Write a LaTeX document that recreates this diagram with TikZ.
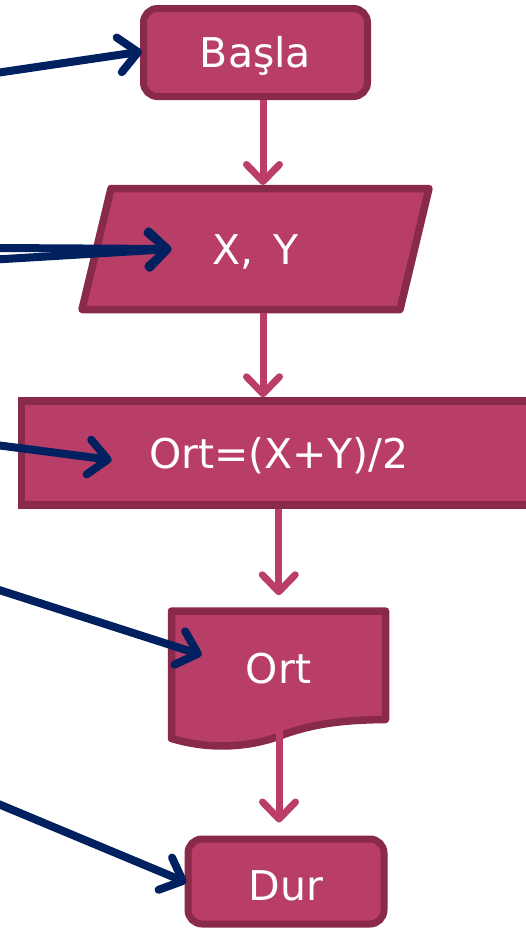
\documentclass[tikz,border=0pt]{standalone}
\usepackage{fontspec}
\setmainfont{DejaVu Sans}
\usetikzlibrary{arrows.meta,calc}
\definecolor{boxfill}{RGB}{185,62,103}
\definecolor{boxline}{RGB}{137,42,74}
\definecolor{navy}{RGB}{0,32,96}
\definecolor{pinkline}{RGB}{186,62,104}
\tikzset{
  lbl/.style={font=\fontsize{41}{48}\selectfont, text=white, text height=30pt, text depth=0pt, inner sep=0pt},
  term/.style={lbl, draw=boxline, fill=boxfill, line width=7pt, rounded corners=14pt},
  procbox/.style={lbl, draw=boxline, fill=boxfill, line width=7.5pt},
  shapebody/.style={draw=boxline, fill=boxfill, line width=7.5pt, line join=round},
  flow/.style={draw=pinkline, line width=7pt, -{Straight Barb[length=17pt,width=33pt,round]}},
  ref/.style={draw=navy, line width=8pt, line cap=round, -{Straight Barb[length=19pt,width=35pt,round]}},
}
\begin{document}
\begin{tikzpicture}[x=1pt,y=-1pt]
\useasboundingbox (0,0) rectangle (526,929);
% nodes
\node[term, minimum width=224pt, minimum height=88pt] (start) at (255.5,52.5) {Başla};
\path[shapebody] (111,188.5) -- (429,188.5) -- (400,309.5) -- (82,309.5) -- cycle;
\node[lbl, minimum width=318pt, minimum height=121pt, outer sep=3.5pt] (io) at (255.5,249) {X,\, Y};
\node[procbox, minimum width=514.5pt, minimum height=104pt] (calc) at (278.75,453) {Ort=(X+Y)/2};
\path[shapebody] (171.5,611) -- (385.5,611) -- (385.5,719.5)
  .. controls (350,720) and (320,722) .. (285,734)
  .. controls (250,748) and (210,750) .. (171.5,738.5) -- cycle;
\node[lbl, minimum width=214pt, minimum height=114pt, outer sep=3.75pt] (out) at (278.5,668) {Ort};
\node[term, minimum width=196pt, minimum height=85pt, text height=37pt] (stop) at (286,881.5) {Dur};
% flow connectors
\coordinate (f1) at ([xshift=7.5pt]start.south);
\coordinate (f2) at ([xshift=7.5pt]io.south);
\draw[flow] (f1) -- (f1 |- io.north);
\draw[flow] (f2) -- (f2 |- calc.north);
\draw[flow, shorten >=12pt] (calc.south) -- (calc.south |- out.north);
\draw[flow, shorten >=13pt] ([xshift=-7pt]stop.north |- out.south) -- ([xshift=-7pt]stop.north);
% free ends and targets of the reference arrows
\coordinate (r1) at (-4,73);
\coordinate (r2a) at (-4,248);
\coordinate (r2b) at (-4,259.5);
\coordinate (r3) at (-4,445);
\coordinate (r4) at (-4,589);
\coordinate (r5) at (-4,803);
\coordinate (t1) at ($(start.west)+(2,-1)$);
\coordinate (t2) at ($(io.center)+(-84,0)$);
\coordinate (t3) at ($(calc.west)+(94,7)$);
\coordinate (t4) at ($(out.west)+(34,-13)$);
\coordinate (t5) at ($(stop.west)+(2,1)$);
\draw[ref] (r1) -- (t1);
\draw[ref] (r2a) -- (t2);
\draw[ref] (r2b) -- (t2);
\draw[ref] (r3) -- (t3);
\draw[ref] (r4) -- (t4);
\draw[ref] (r5) -- (t5);
\end{tikzpicture}
\end{document}
